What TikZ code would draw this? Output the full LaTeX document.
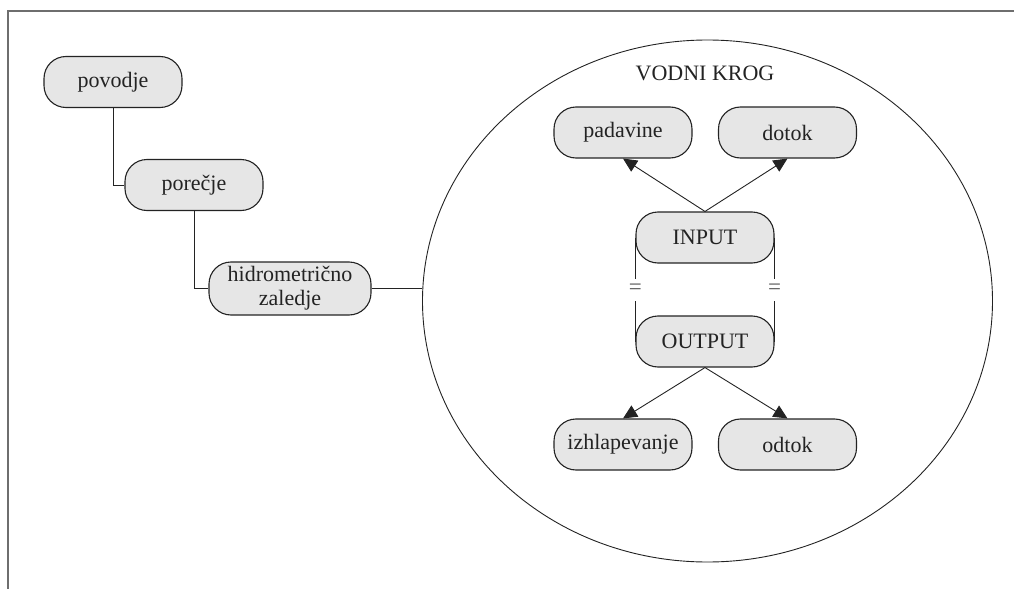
\documentclass[tikz,border=0pt]{standalone}
\usepackage{fontspec}
\setmainfont{Liberation Serif}
\usetikzlibrary{shapes.geometric,arrows.meta}
\definecolor{boxfill}{RGB}{230,230,230}
\definecolor{ink}{RGB}{35,35,35}
\definecolor{framegray}{RGB}{110,110,110}
\tikzset{
  term/.style={draw=ink, fill=boxfill, rounded corners=11pt, line width=0.55pt,
    minimum width=69pt, minimum height=25.5pt, inner sep=0pt, align=center,
    font=\fontsize{11}{12}\selectfont, text=ink},
  link/.style={draw=ink, line width=0.45pt},
  flow/.style={link, -{Triangle[length=7pt,width=6.5pt]}},
  eqmark/.style={fill=white, inner sep=1pt, minimum height=11pt,
    font=\fontsize{11.5}{12}\selectfont, text=black!65},
}
\begin{document}
\begin{tikzpicture}[x=0.5pt, y=-0.5pt]
  \useasboundingbox (0,0) rectangle (1014,589);
  % page frame: only top and left edges
  \draw[framegray, line width=0.8pt] (1014,11) -- (8,11) -- (8,589);

  % hierarchy of catchments
  \node[term] (povodje) at (113,82) {povodje};
  \node[term] (porecje) at (194,185) {porečje};
  \node[term, minimum width=81pt, minimum height=26.5pt] (hidro) at (290,288.5) {hidrometrično\\zaledje};
  \draw[link] (povodje.south) |- (porecje.west);
  \draw[link] (porecje.south) |- (hidro.west);

  % water cycle
  \node[ellipse, draw=ink, line width=0.45pt, minimum width=285pt, minimum height=261pt, inner sep=0pt] (krog) at (707.5,301) {};
  \draw[link] (hidro.east) -- (hidro.east -| krog.west);
  \node[font=\fontsize{11}{12}\selectfont, text=ink] (naslov) at (705,73) {VODNI KROG};

  \node[term] (padavine) at (623,132.5) {padavine};
  \node[term] (dotok) at (787.5,132.5) {dotok};
  \node[term] (input) at (705,237.5) {INPUT};
  \node[term] (output) at (705,341.5) {OUTPUT};
  \node[term] (izhl) at (623,444.5) {izhlapevanje};
  \node[term] (odtok) at (787.5,444.5) {odtok};

  \draw[flow] (input.north) -- (padavine.south);
  \draw[flow] (input.north) -- (dotok.south);
  \draw[flow] (output.south) -- (izhl.north);
  \draw[flow] (output.south) -- (odtok.north);

  \draw[link] (input.west) -- node[eqmark] {=} (output.west);
  \draw[link] (input.east) -- node[eqmark] {=} (output.east);
\end{tikzpicture}
\end{document}
